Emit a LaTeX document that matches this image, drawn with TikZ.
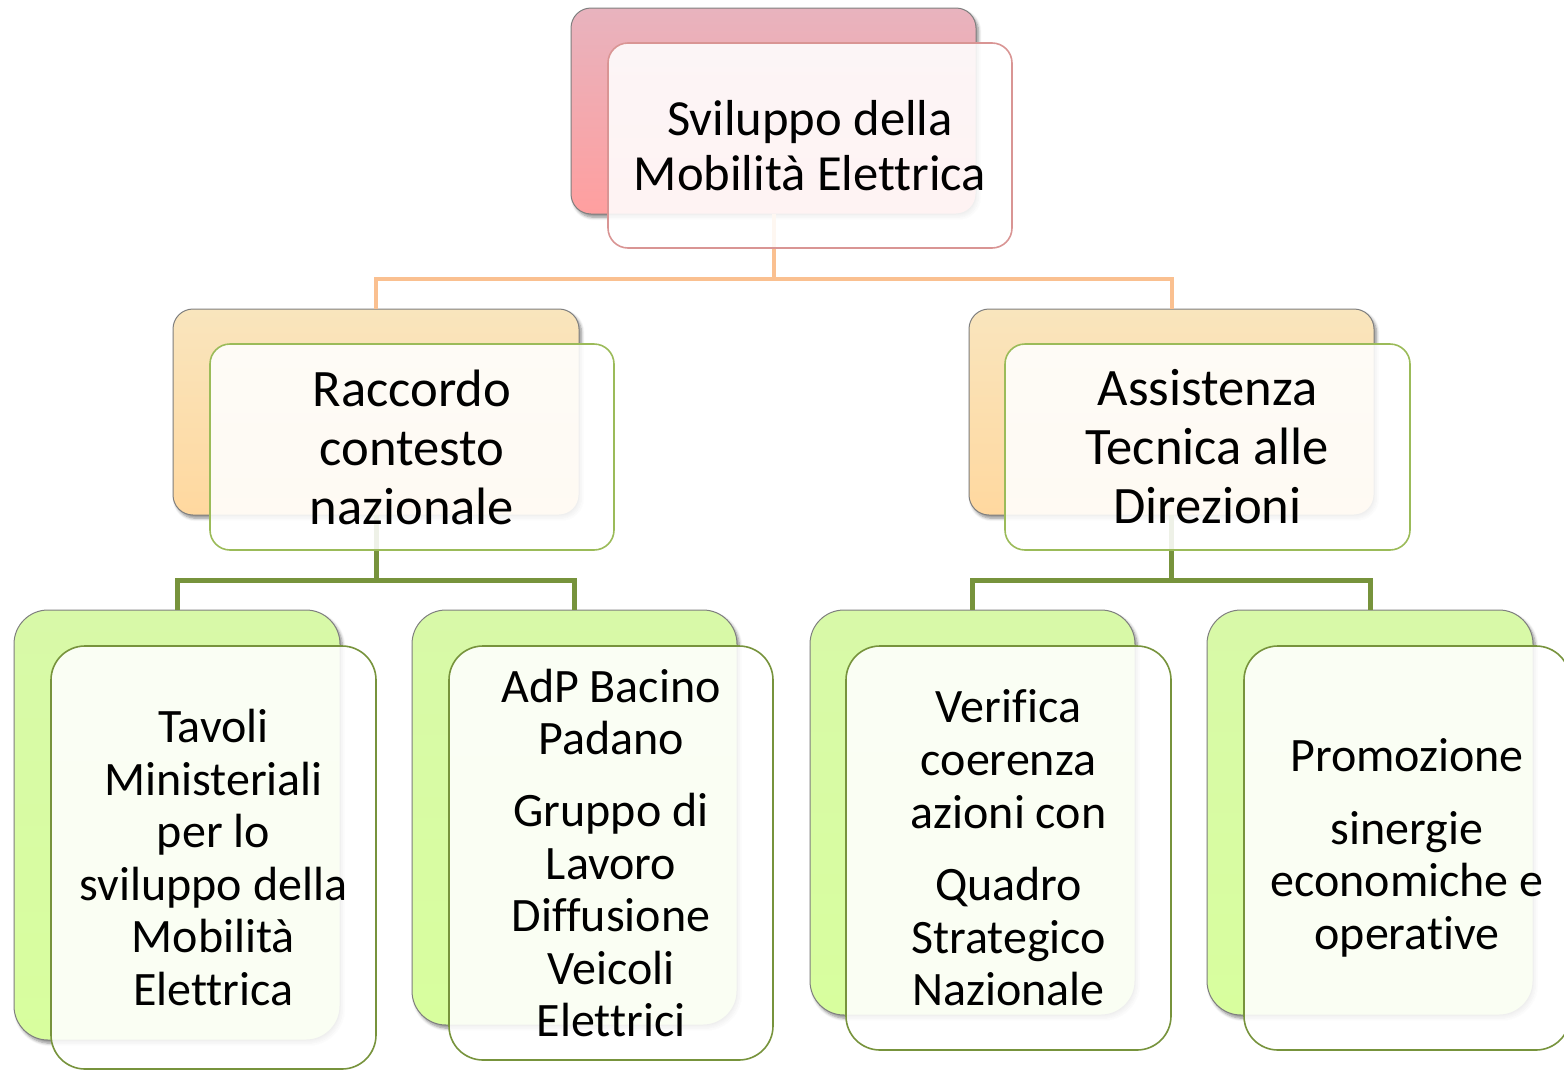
\documentclass[tikz,border=0pt]{standalone}
\usepackage{fontspec}
\setmainfont{Carlito}[Ligatures=NoCommon]
\usetikzlibrary{shadows.blur}
\definecolor{pinkT}{HTML}{E8B3BE}
\definecolor{pinkB}{HTML}{FF9F9F}
\definecolor{pinkE}{HTML}{D99594}
\definecolor{orT}{HTML}{F9E5BD}
\definecolor{orB}{HTML}{FFD89F}
\definecolor{grT}{HTML}{D8F9A8}
\definecolor{grB}{HTML}{D8FE9E}
\definecolor{grE}{HTML}{9BBB59}
\definecolor{olE}{HTML}{77933C}
\definecolor{conO}{HTML}{FAC090}
\definecolor{edgeG}{HTML}{7F7F7F}
\tikzset{
  bx/.style 2 args={minimum width=#1*0.5pt, minimum height=#2*0.5pt, inner sep=0pt, outer sep=0pt},
  backbox/.style={draw=edgeG, line width=0.5pt,
    blur shadow={shadow xshift=1.2pt, shadow yshift=-1.6pt, shadow blur steps=6, shadow opacity=45, shadow blur radius=1.5pt}},
  topback/.style={backbox, rounded corners=10pt, top color=pinkT, bottom color=pinkB},
  midback/.style={backbox, rounded corners=10pt, top color=orT, bottom color=orB},
  lowback/.style={backbox, rounded corners=17pt, top color=grT, bottom color=grB},
  frontbox/.style={fill=white, fill opacity=0.88, text opacity=1, line width=0.8pt, align=center},
  topfront/.style={frontbox, draw=pinkE, rounded corners=10pt, font=\fontsize{25.3}{27.5}\selectfont},
  midfront/.style={frontbox, draw=grE, rounded corners=10pt, font=\fontsize{26.3}{29.5}\selectfont},
  lowfront/.style={frontbox, draw=olE, rounded corners=17pt, font=\fontsize{24}{26.3}\selectfont},
  conn1/.style={draw=conO, line width=2pt},
  conn2/.style={draw=olE, line width=2.5pt},
}
\begin{document}
\begin{tikzpicture}[x=0.5pt, y=-0.5pt]
\useasboundingbox (0,0) rectangle (1564,1071);
\clip (0,0) rectangle (1564,1071);
% Back boxes
\node[topback, bx={405}{206}] (topb) at (773.5,111) {};
\node[midback, bx={406}{206}] (mlb) at (376,412) {};
\node[midback, bx={405}{206}] (mrb) at (1171.5,412) {};
\node[lowback, bx={326}{430}] (b1b) at (177,825) {};
\node[lowback, bx={325}{415}] (b2b) at (574.5,817.5) {};
\node[lowback, bx={325}{405}] (b3b) at (972.5,812.5) {};
\node[lowback, bx={326}{405}] (b4b) at (1370,812.5) {};
% connectors
\draw[conn1] (topb.south) -- ++(0,65) coordinate (bus1) -| (mlb.north);
\draw[conn1] (bus1) -| (mrb.north);
\draw[conn2] (mlb.south) -- ++(0,65) coordinate (bus2) -| (b1b.north);
\draw[conn2] (bus2) -| (b2b.north);
\draw[conn2] (mrb.south) -- ++(0,65) coordinate (bus3) -| (b3b.north);
\draw[conn2] (bus3) -| (b4b.north);
% front boxes
\node[topfront, bx={404}{205}] (topf) at (810,145.5) {Sviluppo della\\Mobilità Elettrica};
\node[midfront, bx={404}{206}] (mlf) at (412,447) {Raccordo\\contesto\\nazionale};
\node[midfront, bx={405}{206}] (mrf) at (1207.5,447) {Assistenza\\Tecnica alle\\Direzioni};
\node[lowfront, bx={325}{423}] (b1f) at (213.5,857.5) {Tavoli\\Ministeriali\\per lo\\sviluppo della\\Mobilità\\Elettrica};
\node[lowfront, bx={324}{414}] (b2f) at (611,853) {AdP Bacino\\Padano\\[9.5pt]Gruppo di\\Lavoro\\Diffusione\\Veicoli\\Elettrici};
\node[lowfront, bx={325}{404}] (b3f) at (1008.5,848) {Verifica\\coerenza\\azioni con\\[10pt]Quadro\\Strategico\\Nazionale};
\node[lowfront, bx={326}{404}] (b4f) at (1407,848) {Promozione\\[10pt]sinergie\\economiche e\\operative};
\end{tikzpicture}
\end{document}
